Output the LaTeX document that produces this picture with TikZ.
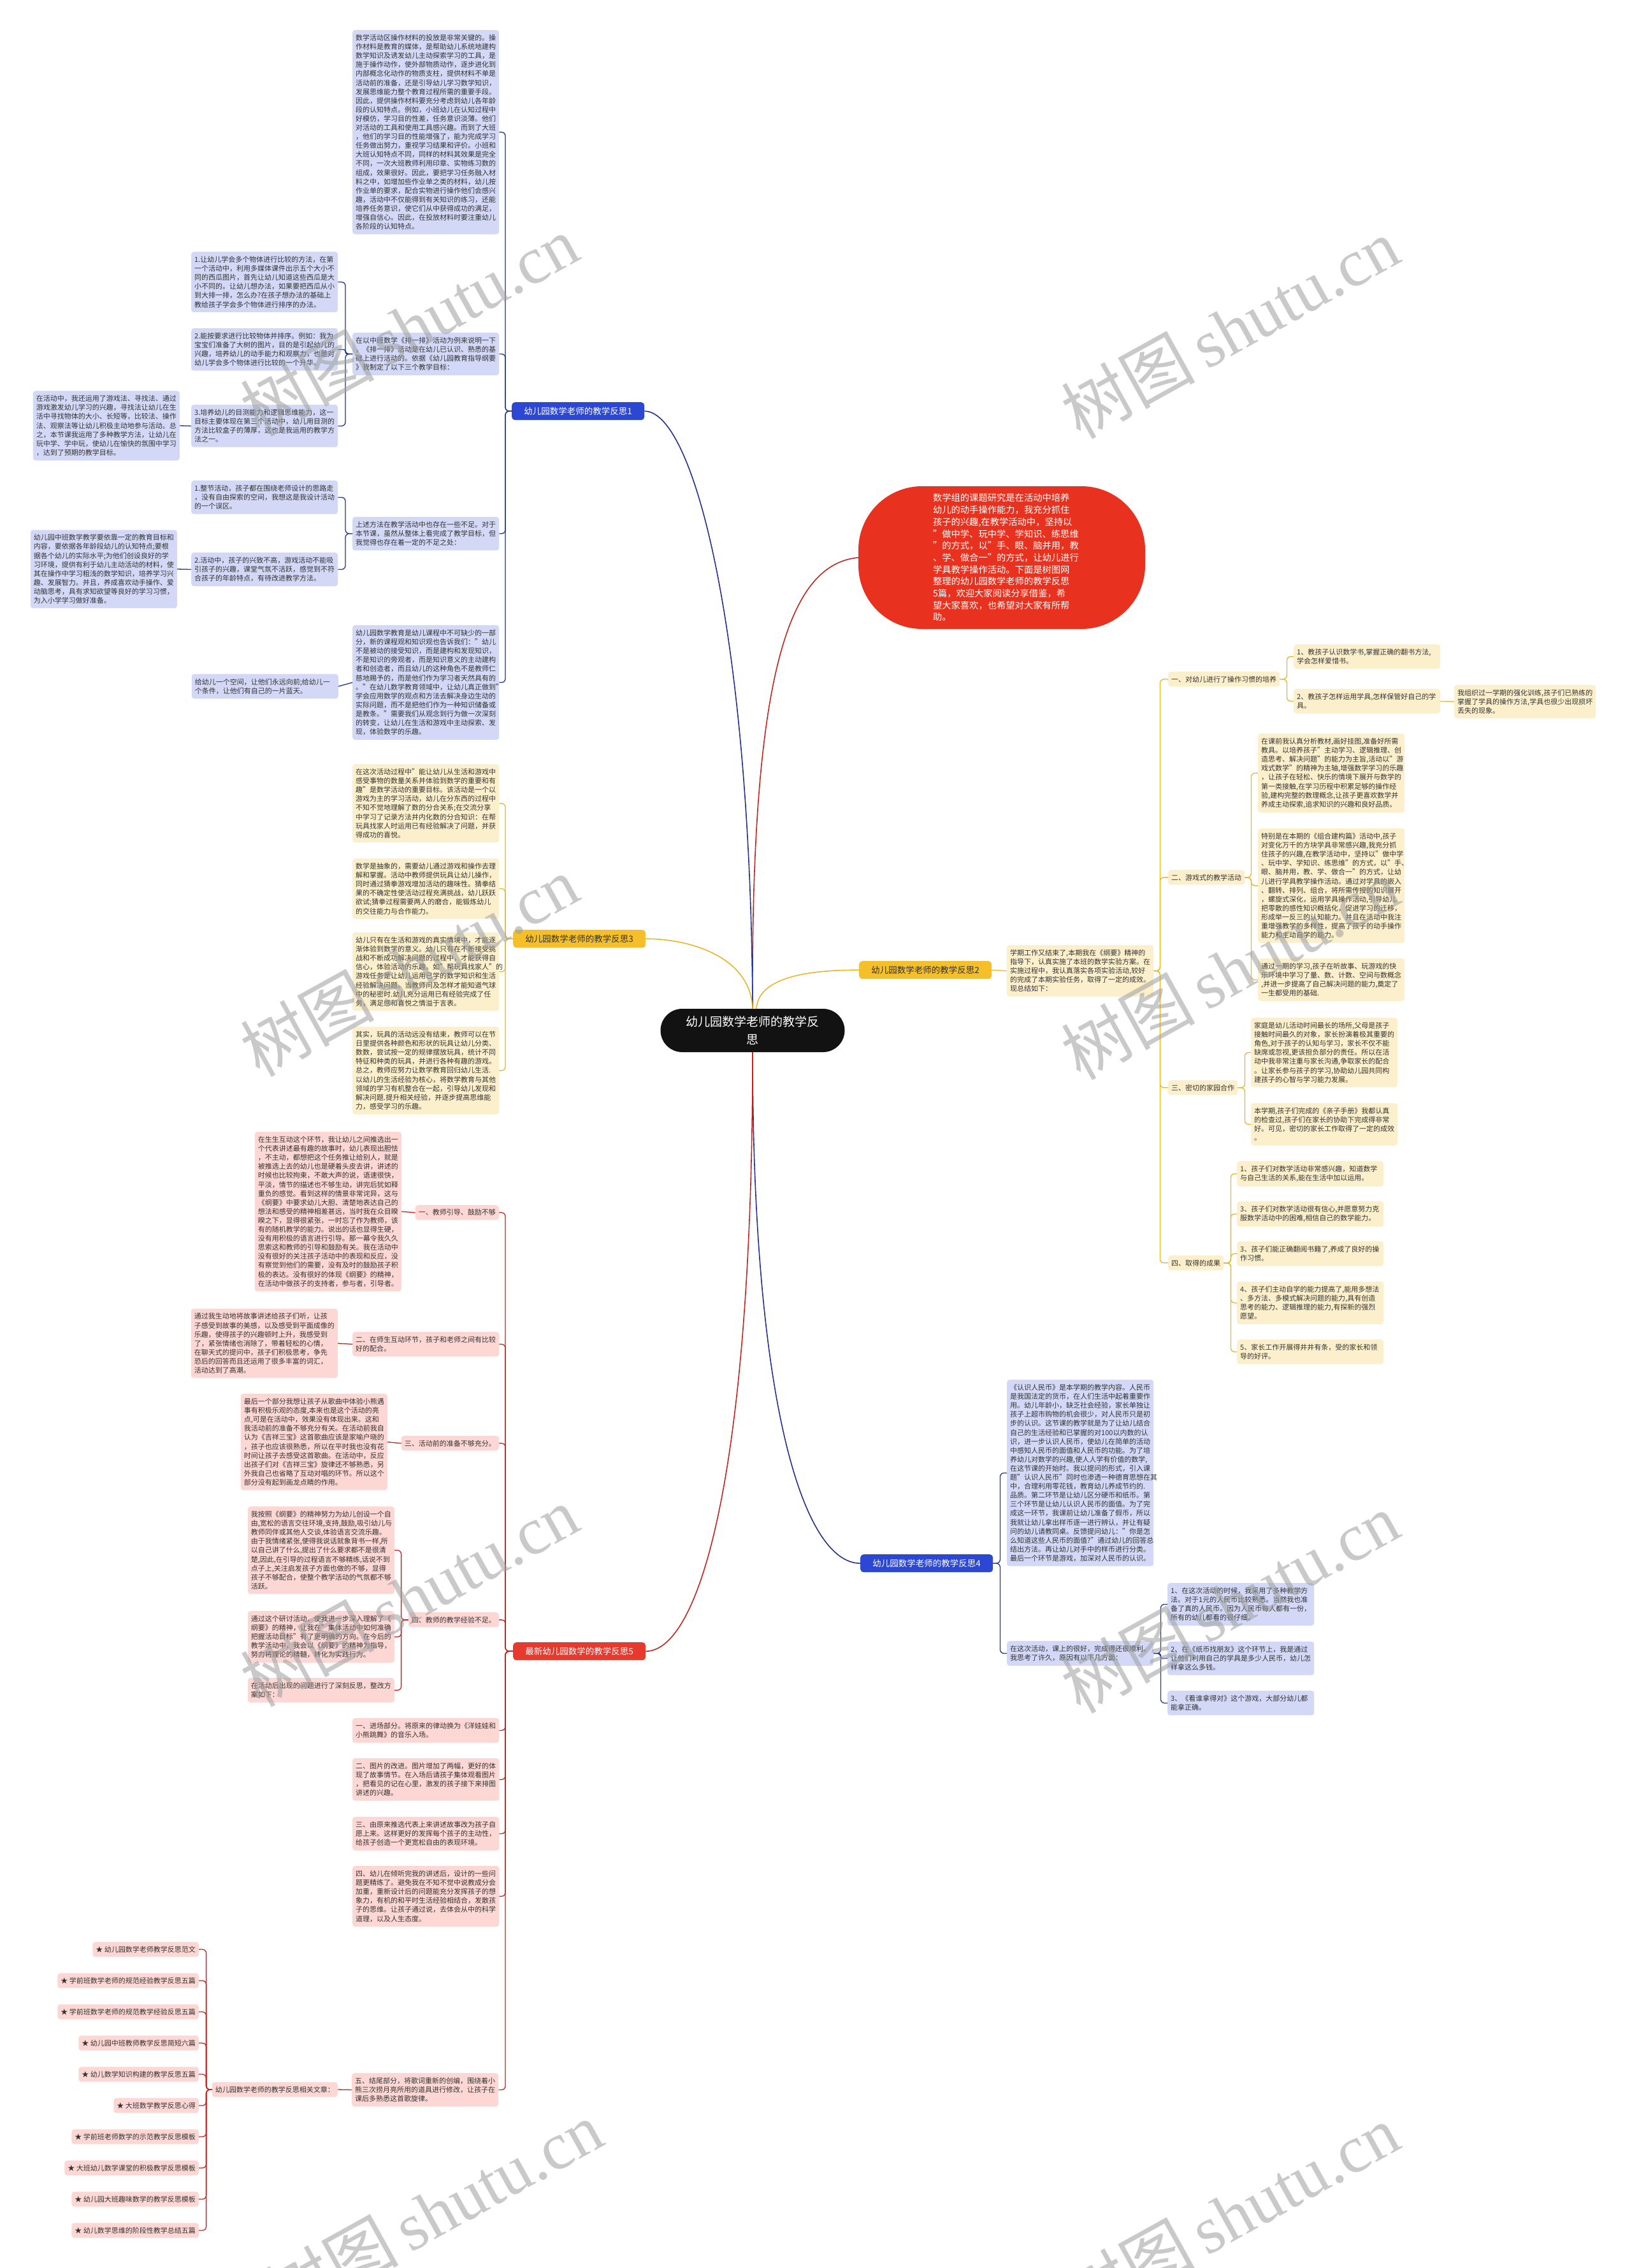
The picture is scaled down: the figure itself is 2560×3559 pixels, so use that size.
\documentclass[tikz,border=0pt]{standalone}
\usepackage{fontspec}
\setmainfont{Noto Sans CJK SC}
\newfontfamily\wmserif{Liberation Serif}
\definecolor{bfill}{HTML}{D3D8F6}
\definecolor{yfill}{HTML}{FCEFCB}
\definecolor{rfill}{HTML}{FCD7D4}
\definecolor{bline}{HTML}{22308F}
\definecolor{yline}{HTML}{E8B628}
\definecolor{rline}{HTML}{C42420}
\definecolor{blabc}{HTML}{2D47D5}
\definecolor{ylabc}{HTML}{F5BF2A}
\definecolor{rlabc}{HTML}{E63A2E}
\definecolor{introc}{HTML}{E8321F}
\definecolor{txt}{HTML}{333333}
\definecolor{wm}{HTML}{9E9E9E}
\newcommand\myfs{\fontsize{11}{14.1}\selectfont}
\begin{document}
\begin{tikzpicture}[x=1pt,y=-1pt,
  tbox/.style={anchor=north west, fill=#1, rounded corners=4pt, text=txt, font=\myfs, align=left, text width=220pt, inner xsep=5pt, inner ysep=7pt},
  tlab/.style={anchor=north west, fill=#1, rounded corners=4pt, text=txt, font=\myfs, inner xsep=5pt, inner ysep=6.5pt},
  tlabne/.style={tlab=#1, anchor=north east},
  tlabe/.style={tlab=#1, anchor=east},
  blab/.style={anchor=north west, fill=#1, rounded corners=5pt, font=\fontsize{13.5}{16}\selectfont, minimum width=208pt, minimum height=28pt, inner sep=0pt},
  cb/.style={draw=bline, line width=1.3pt, rounded corners=6pt},
  cy/.style={draw=yline, line width=1.3pt, rounded corners=6pt},
  cr/.style={draw=rline, line width=1.3pt, rounded corners=6pt},
  lk/.style={to path={-- ++(-#1,0) |- (\tikztotarget)}},
  rk/.style={to path={-- ++(#1,0) |- (\tikztotarget)}},
  wmk/.style={text=wm, text opacity=0.55, rotate=29, inner sep=0pt}
]
\useasboundingbox (0,0) rectangle (2560,3559);
\fill[white] (0,0) rectangle (2560,3559);

% ---------------- root and intro
\node[fill=black!93, text=white, rounded corners=34pt, minimum width=289pt, minimum height=68pt, align=center, font=\fontsize{19}{28}\selectfont, inner sep=0pt] (root) at (1181,1617) {幼儿园数学老师的教学反\\思};

\node[fill=introc, text=white, rounded corners=100pt, minimum width=450pt, minimum height=224pt, inner sep=0pt, font=\fontsize{14.3}{18.7}\selectfont, align=left, text width=216pt] (intro) at (1572,875) {数学组的课题研究是在活动中培养\\幼儿的动手操作能力，我充分抓住\\孩子的兴趣,在教学活动中，坚持以\\"做中学、玩中学、学知识、练思维\\"的方式，以"手、眼、脑并用，教\\、学、做合一"的方式，让幼儿进行\\学具教学操作活动。下面是树图网\\整理的幼儿园数学老师的教学反思\\5篇，欢迎大家阅读分享借鉴，希\\望大家喜欢，也希望对大家有所帮\\助。};

% ---------------- branch labels
\node[blab=blabc, text=white] (b1) at (803,631) {幼儿园数学老师的教学反思1};
\node[blab=ylabc, text=txt] (b3) at (805,1459) {幼儿园数学老师的教学反思3};
\node[blab=ylabc, text=txt] (b2) at (1348,1508) {幼儿园数学老师的教学反思2};
\node[blab=blabc, text=white] (b4) at (1350,2439) {幼儿园数学老师的教学反思4};
\node[blab=rlabc, text=white] (b5) at (805,2577) {最新幼儿园数学的教学反思5};

\draw[line width=1.6pt, draw=rline] (root.north) .. controls (1178,1050) and (1240,885) .. (intro.west);
\draw[line width=1.6pt, draw=bline] (root.north) .. controls (1178,1000) and (1090,645) .. (b1.east);
\draw[line width=1.6pt, draw=yline] (root.north) .. controls (1178,1500) and (1080,1473) .. (b3.east);
\draw[line width=1.6pt, draw=yline] ([xshift=6pt]root.north) .. controls (1190,1530) and (1280,1522) .. (b2.west);
\draw[line width=1.6pt, draw=bline] (root.south) .. controls (1181,2200) and (1260,2453) .. (b4.west);
\draw[line width=1.6pt, draw=rline] (root.south) .. controls (1181,2300) and (1100,2591) .. (b5.east);

% ---------------- branch 1
\node[tbox=bfill] (A) at (553,47) {数学活动区操作材料的投放是非常关键的。操\\作材料是教育的媒体，是帮助幼儿系统地建构\\数学知识及诱发幼儿主动探索学习的工具，是\\施于操作动作，使外部物质动作，逐步进化到\\内部概念化动作的物质支柱，提供材料不单是\\活动前的准备，还是引导幼儿学习数学知识，\\发展思维能力整个教育过程所需的重要手段。\\因此，提供操作材料要充分考虑到幼儿各年龄\\段的认知特点。例如，小班幼儿在认知过程中\\好模仿，学习目的性差，任务意识淡薄。他们\\对活动的工具和使用工具感兴趣。而到了大班\\，他们的学习目的性能增强了，能为完成学习\\任务做出努力，重视学习结果和评价。小班和\\大班认知特点不同，同样的材料其效果是完全\\不同，一次大班教师利用印章、实物练习数的\\组成，效果很好。因此，要把学习任务融入材\\料之中，如增加些作业单之类的材料，幼儿按\\作业单的要求，配合实物进行操作他们会感兴\\趣，活动中不仅能得到有关知识的练习，还能\\培养任务意识，使它们从中获得成功的满足，\\增强自信心。因此，在投放材料时要注重幼儿\\各阶段的认知特点。};
\node[tbox=bfill] (B) at (553,522) {在以中班数学《排一排》活动为例来说明一下\\，《排一排》活动是在幼儿已认识、熟悉的基\\础上进行活动的。依据《幼儿园教育指导纲要\\》我制定了以下三个教学目标：};
\node[tbox=bfill] (B1) at (300,395) {1.让幼儿学会多个物体进行比较的方法，在第\\一个活动中，利用多媒体课件出示五个大小不\\同的西瓜图片，首先让幼儿知道这些西瓜是大\\小不同的。让幼儿想办法，如果要把西瓜从小\\到大排一排，怎么办?在孩子想办法的基础上\\教给孩子学会多个物体进行排序的办法。};
\node[tbox=bfill] (B2) at (300,515) {2.能按要求进行比较物体并排序。例如：我为\\宝宝们准备了大树的图片，目的是引起幼儿的\\兴趣，培养幼儿的动手能力和观察力，也是对\\幼儿学会多个物体进行比较的一个升华。};
\node[tbox=bfill] (B3) at (300,635) {3.培养幼儿的目测能力和逻辑思维能力，这一\\目标主要体现在第三个活动中，幼儿用目测的\\方法比较盒子的薄厚，这也是我运用的教学方\\法之一。};
\node[tbox=bfill, anchor=east] (B3L) at (282,668) {在活动中，我还运用了游戏法、寻找法、通过\\游戏激发幼儿学习的兴趣，寻找法让幼儿在生\\活中寻找物体的大小、长短等，比较法、操作\\法、观察法等让幼儿积极主动地参与活动。总\\之，本节课我运用了多种教学方法，让幼儿在\\玩中学、学中玩，使幼儿在愉快的氛围中学习\\，达到了预期的教学目标。};
\node[tbox=bfill] (C) at (553,811) {上述方法在教学活动中也存在一些不足。对于\\本节课，虽然从整体上看完成了教学目标，但\\我觉得也存在着一定的不足之处：};
\node[tbox=bfill] (C1) at (300,754) {1.整节活动，孩子都在围绕老师设计的思路走\\，没有自由探索的空间，我想这是我设计活动\\的一个误区。};
\node[tbox=bfill] (C2) at (300,867) {2.活动中，孩子的兴致不高，游戏活动不能吸\\引孩子的兴趣，课堂气氛不活跃，感觉到不符\\合孩子的年龄特点，有待改进教学方法。};
\node[tbox=bfill, anchor=east] (C2L) at (278,893) {幼儿园中班数学教学要依靠一定的教育目标和\\内容，要依据各年龄段幼儿的认知特点;要根\\据各个幼儿的实际水平;为他们创设良好的学\\习环境，提供有利于幼儿主动活动的材料，使\\其在操作中学习粗浅的数学知识，培养学习兴\\趣、发展智力。并且，养成喜欢动手操作、爱\\动脑思考，具有求知欲望等良好的学习习惯，\\为入小学学习做好准备。};
\node[tbox=bfill] (D) at (553,981) {幼儿园数学教育是幼儿课程中不可缺少的一部\\分，新的课程观和知识观也告诉我们："幼儿\\不是被动的接受知识，而是建构和发现知识，\\不是知识的旁观者，而是知识意义的主动建构\\者和创造者，而且幼儿的这种角色不是教师仁\\慈地赐予的，而是他们作为学习者天然具有的\\。"在幼儿数学教育领域中，让幼儿真正做到"\\学会应用数学的观点和方法去解决身边生动的\\实际问题，而不是把他们作为一种知识储备或\\是教条。"需要我们从观念到行为做一次深刻\\的转变，让幼儿在生活和游戏中主动探索、发\\现，体验数学的乐趣。};
\node[tbox=bfill, anchor=east] (DL) at (531,1077) {给幼儿一个空间，让他们永远向前;给幼儿一\\个条件，让他们有自己的一片蓝天。};

\draw[cb] (b1.west) to[lk=10] (A.east);
\draw[cb] (b1.west) to[lk=10] (B.east);
\draw[cb] (b1.west) to[lk=10] (C.east);
\draw[cb] (b1.west) to[lk=10] (D.east);
\draw[cb] (B.west) to[lk=11] (B1.east);
\draw[cb, rounded corners=3pt] (B.west) to[lk=11] (B2.east);
\draw[cb] (B.west) to[lk=11] (B3.east);
\draw[cb] (B3.west) -- (B3L.east);
\draw[cb] (C.west) to[lk=11] (C1.east);
\draw[cb] (C.west) to[lk=11] (C2.east);
\draw[cb] (C2.west) -- (C2L.east);
\draw[cb] (D.west) -- (DL.east);

% ---------------- branch 3
\node[tbox=yfill] (Y1) at (553,1199) {在这次活动过程中"能让幼儿从生活和游戏中\\感受事物的数量关系并体验到数学的重要和有\\趣"是数学活动的重要目标。该活动是一个以\\游戏为主的学习活动，幼儿在分东西的过程中\\不知不觉地理解了数的分合关系;在交流分享\\中学习了记录方法并内化数的分合知识：在帮\\玩具找家人时运用已有经验解决了问题，并获\\得成功的喜悦。};
\node[tbox=yfill] (Y2) at (553,1347) {数学是抽象的，需要幼儿通过游戏和操作去理\\解和掌握。活动中教师提供玩具让幼儿操作，\\同时通过猜拳游戏增加活动的趣味性。猜拳结\\果的不确定性使活动过程充满挑战，幼儿跃跃\\欲试;猜拳过程需要两人的磨合，能锻炼幼儿\\的交往能力与合作能力。};
\node[tbox=yfill] (Y3) at (553,1463) {幼儿只有在生活和游戏的真实情境中，才能逐\\渐体验到数学的意义。幼儿只有在不断接受挑\\战和不断成功解决问题的过程中，才能获得自\\信心，体验活动的乐趣。如"帮玩具找家人"的\\游戏任务是让幼儿运用已学的数学知识和生活\\经验解决问题。当教师问及怎样才能知道气球\\中的秘密时.幼儿充分运用已有经验完成了任\\务，满足感和喜悦之情溢于言表。};
\node[tbox=yfill] (Y4) at (553,1611) {其实，玩具的活动远没有结束，教师可以在节\\日里提供各种颜色和形状的玩具让幼儿分类、\\数数，尝试按一定的规律摆放玩具，统计不同\\特征和种类的玩具，并进行各种有趣的游戏。\\总之，教师应努力让数学教育回归幼儿生活.\\以幼儿的生活经验为核心，将数学教育与其他\\领域的学习有机整合在一起，引导幼儿发现和\\解决问题.提升相关经验，并逐步提高思维能\\力，感受学习的乐趣。};
\draw[cy] (b3.west) to[lk=12] (Y1.east);
\draw[cy] (b3.west) to[lk=12] (Y2.east);
\draw[cy] (b3.west) to[lk=12] (Y3.east);
\draw[cy] (b3.west) to[lk=12] (Y4.east);

% ---------------- branch 2
\node[tbox=yfill] (QP) at (1580,1483) {学期工作又结束了,本期我在《纲要》精神的\\指导下，认真实施了本班的数学实验方案。在\\实施过程中，我认真落实各项实验活动,较好\\的完成了本期实验任务，取得了一定的成效。\\现总结如下：};
\draw[cy] (b2.east) -- (QP.west);
\node[tlab=yfill] (Q1) at (1833,1054) {一、对幼儿进行了操作习惯的培养};
\node[tbox=yfill] (Q1a) at (2030,1011) {1、教孩子认识数学书,掌握正确的翻书方法,\\学会怎样爱惜书。};
\node[tbox=yfill] (Q1b) at (2030,1081) {2、教孩子怎样运用学具,怎样保管好自己的学\\具。};
\node[tbox=yfill, text width=212pt, anchor=west] (Q1R) at (2282,1101) {我组织过一学期的强化训练,孩子们已熟练的\\掌握了学具的操作方法,学具也很少出现损坏\\丢失的现象。};
\node[tlab=yfill] (Q2) at (1833,1365) {二、游戏式的教学活动};
\node[tbox=yfill] (Q2a) at (1974,1151) {在课前我认真分析教材,画好挂图,准备好所需\\教具。以培养孩子"主动学习、逻辑推理、创\\造思考、解决问题"的能力为主旨,活动以"游\\戏式数学"的精神为主轴,增强数学学习的乐趣\\，让孩子在轻松、快乐的情境下展开与数学的\\第一类接触,在学习历程中积累足够的操作经\\验,建构完整的数理概念,让孩子更喜欢数学并\\养成主动探索,追求知识的兴趣和良好品质。};
\node[tbox=yfill] (Q2b) at (1974,1300) {特别是在本期的《组合建构篇》活动中,孩子\\对变化万千的方块学具非常感兴趣,我充分抓\\住孩子的兴趣,在教学活动中，坚持以"做中学\\、玩中学、学知识、练思维"的方式，以"手、\\眼、脑并用，教、学、做合一"的方式，让幼\\儿进行学具教学操作活动。通过对学具的嵌入\\、翻转、排列、组合，将所需传授的知识展开\\，螺旋式深化，运用学具操作活动,引导幼儿\\把零散的感性知识概括化，促进学习的迁移，\\形成举一反三的认知能力。并且在活动中我注\\重增强教学的多样性，提高了孩子的动手操作\\能力和主动自学的能力。};
\node[tbox=yfill] (Q2c) at (1974,1504) {通过一期的学习,孩子在听故事、玩游戏的快\\乐环境中学习了量、数、计数、空间与数概念\\,并进一步提高了自己解决问题的能力,奠定了\\一生都受用的基础.};
\node[tlab=yfill] (Q3) at (1833,1695) {三、密切的家园合作};
\node[tbox=yfill] (Q3a) at (1963,1597) {家庭是幼儿活动时间最长的场所,父母是孩子\\接触时间最久的对象，家长扮演着极其重要的\\角色,对于孩子的认知与学习，家长不仅不能\\缺席或忽视,更该担负部分的责任。所以在活\\动中我非常注重与家长沟通,争取家长的配合\\。让家长参与孩子的学习,协助幼儿园共同构\\建孩子的心智与学习能力发展。};
\node[tbox=yfill] (Q3b) at (1963,1731) {本学期,孩子们完成的《亲子手册》我都认真\\的检查过,孩子们在家长的协助下完成得非常\\好。可见，密切的家长工作取得了一定的成效\\。};
\node[tlab=yfill] (Q4) at (1833,1970) {四、取得的成果};
\node[tbox=yfill] (Q4a) at (1941,1822) {1、孩子们对数学活动非常感兴趣，知道数学\\与自己生活的关系,能在生活中加以运用。};
\node[tbox=yfill] (Q4b) at (1941,1885) {3、孩子们对数学活动很有信心,并愿意努力克\\服数学活动中的困难,相信自己的数学能力。};
\node[tbox=yfill] (Q4c) at (1941,1948) {3、孩子们能正确翻阅书籍了,养成了良好的操\\作习惯。};
\node[tbox=yfill] (Q4d) at (1941,2011) {4、孩子们主动自学的能力提高了,能用多想法\\、多方法、多模式解决问题的能力,具有创造\\思考的能力、逻辑推理的能力,有探新的强烈\\愿望。};
\node[tbox=yfill] (Q4e) at (1941,2102) {5、家长工作开展得井井有条，受的家长和领\\导的好评。};
\draw[cy] (QP.east) to[rk=10] (Q1.west);
\draw[cy] (QP.east) to[rk=10] (Q2.west);
\draw[cy] (QP.east) to[rk=10] (Q3.west);
\draw[cy] (QP.east) to[rk=10] (Q4.west);
\draw[cy] (Q1.east) to[rk=11] (Q1a.west);
\draw[cy] (Q1.east) to[rk=11] (Q1b.west);
\draw[cy] (Q1b.east) -- (Q1R.west);
\draw[cy] (Q2.east) to[rk=10] (Q2a.west);
\draw[cy] (Q2.east) to[rk=10] (Q2b.west);
\draw[cy] (Q2.east) to[rk=10] (Q2c.west);
\draw[cy] (Q3.east) to[rk=11] (Q3a.west);
\draw[cy] (Q3.east) to[rk=11] (Q3b.west);
\draw[cy] (Q4.east) to[rk=11] (Q4a.west);
\draw[cy] (Q4.east) to[rk=11] (Q4b.west);
\draw[cy] (Q4.east) to[rk=11] (Q4c.west);
\draw[cy] (Q4.east) to[rk=11] (Q4d.west);
\draw[cy] (Q4.east) to[rk=11] (Q4e.west);

% ---------------- branch 4
\node[tbox=bfill] (P1) at (1580,2165) {《认识人民币》是本学期的教学内容。人民币\\是我国法定的货币，在人们生活中起着重要作\\用。幼儿年龄小，缺乏社会经验，家长单独让\\孩子上超市购物的机会很少，对人民币只是初\\步的认识。这节课的教学就是为了让幼儿结合\\自己的生活经验和已掌握的对100以内数的认\\识，进一步认识人民币，使幼儿在简单的活动\\中感知人民币的面值和人民币的功能。为了培\\养幼儿对数学的兴趣,使人人学有价值的数学,\\在这节课的开始时。我以提问的形式，引入课\\题"认识人民币"同时也渗透一种德育思想在其\\中，合理利用零花钱，教育幼儿养成节约的.\\品质。第二环节是让幼儿区分硬币和纸币。第\\三个环节是让幼儿认识人民币的面值。为了完\\成这一环节，我课前让幼儿准备了假币，所以\\我就让幼儿拿出样币逐一进行辨认，并让有疑\\问的幼儿请教同桌。反馈提问幼儿："你是怎\\么知道这些人民币的面值?"通过幼儿的回答总\\结出方法。再让幼儿对手中的样币进行分类。\\最后一个环节是游戏，加深对人民币的认识。};
\node[tbox=bfill] (P2) at (1580,2575) {在这次活动，课上的很好，完成得还很顺利。\\我思考了许久，原因有以下几方面：};
\node[tbox=bfill] (P2a) at (1832,2484) {1、在这次活动的时候，我采用了多种教学方\\法。对于1元的人民币比较熟悉。当然我也准\\备了真的人民币。因为人民币每人都有一份，\\所有的幼儿都看的很仔细。};
\node[tbox=bfill] (P2b) at (1832,2576) {2、在《纸币找朋友》这个环节上，我是通过\\让他们利用自己的学具是多少人民币，幼儿怎\\样拿这么多钱。};
\node[tbox=bfill] (P2c) at (1832,2653) {3、《看谁拿得对》这个游戏，大部分幼儿都\\能拿正确。};
\draw[cb] (b4.east) to[rk=11] (P1.west);
\draw[cb] (b4.east) to[rk=11] (P2.west);
\draw[cb] (P2.east) to[rk=11] (P2a.west);
\draw[cb, rounded corners=3pt] (P2.east) to[rk=11] (P2b.west);
\draw[cb] (P2.east) to[rk=11] (P2c.west);

% ---------------- branch 5
\node[tlabne=rfill] (R1) at (783,1891) {一、教师引导、鼓励不够};
\node[tbox=rfill, anchor=north east] (R1a) at (630,1776) {在生生互动这个环节，我让幼儿之间推选出一\\个代表讲述最有趣的故事时，幼儿表现出胆怯\\，不主动，都想把这个任务推让给别人，就是\\被推选上去的幼儿也是硬着头皮去讲，讲述的\\时候也比较拘束，不敢大声的说，语速很快，\\平淡，情节的描述也不够生动，讲完后犹如释\\重负的感觉。看到这样的情景非常诧异，这与\\《纲要》中要求幼儿大胆、清楚地表达自己的\\想法和感受的精神相差甚远，当时我在众目睽\\睽之下，显得很紧张，一时忘了作为教师，该\\有的随机教学的能力。说出的话也显得生硬，\\没有用积极的语言进行引导。那一幕令我久久\\思索这和教师的引导和鼓励有关。我在活动中\\没有很好的关注孩子活动中的表现和反应，没\\有察觉到他们的需要，没有及时的鼓励孩子积\\极的表达。没有很好的体现《纲要》的精神，\\在活动中做孩子的支持者，参与者，引导者。};
\node[tbox=rfill] (R2) at (553,2090) {二、在师生互动环节，孩子和老师之间有比较\\好的配合。};
\node[tbox=rfill, anchor=east] (R2a) at (530,2108) {通过我生动地将故事讲述给孩子们听，让孩\\子感受到故事的美感，以及感受到平面成像的\\乐趣，使得孩子的兴趣顿时上升，我感受到\\了，紧张情绪也消除了，带着轻松的心情，\\在聊天式的提问中，孩子们积极思考，争先\\恐后的回答而且还运用了很多丰富的词汇，\\活动达到了高潮。};
\node[tlabne=rfill] (R3) at (783,2253) {三、活动前的准备不够充分。};
\node[tbox=rfill, anchor=north east] (R3a) at (608,2187) {最后一个部分我想让孩子从歌曲中体验小熊遇\\事有积极乐观的态度,本来也是这个活动的亮\\点,可是在活动中，效果没有体现出来。这和\\我活动前的准备不够充分有关。在活动前我自\\认为《吉祥三宝》这首歌曲应该是家喻户晓的\\，孩子也应该很熟悉，所以在平时我也没有花\\时间让孩子去感受这首歌曲。在活动中，反应\\出孩子们对《吉祥三宝》旋律还不够熟悉，另\\外我自己也省略了互动对唱的环节。所以这个\\部分没有起到画龙点睛的作用。};
\node[tlabne=rfill] (R4) at (783,2530) {四、教师的教学经验不足。};
\node[tbox=rfill, anchor=north east] (R4a) at (619,2364) {我按照《纲要》的精神努力为幼儿创设一个自\\由,宽松的语言交往环境,支持,鼓励,吸引幼儿与\\教师同伴或其他人交谈,体验语言交流乐趣。\\由于我情绪紧张,使得我说话就象背书一样,所\\以自己讲了什么,提出了什么要求都不是很清\\楚,因此,在引导的过程语言不够精练,话说不到\\点子上,关注启发孩子方面也做的不够，显得\\孩子不够配合，使整个教学活动的气氛都不够\\活跃。};
\node[tbox=rfill, anchor=north east] (R4b) at (619,2528) {通过这个研讨活动，使我进一步深入理解了《\\纲要》的精神，让我在"集体活动中如何准确\\把握活动目标"有了更明确的方向。在今后的\\教学活动中，我会以《纲要》的精神为指导，\\努力将理论的精髓，转化为实践行为。};
\node[tbox=rfill, anchor=north east] (R4c) at (619,2633) {在活动后出现的问题进行了深刻反思，整改方\\案如下：};
\node[tbox=rfill] (R5) at (553,2696) {一、进场部分。将原来的律动换为《洋娃娃和\\小熊跳舞》的音乐入场。};
\node[tbox=rfill] (R6) at (553,2759) {二、图片的改进。图片增加了两幅，更好的体\\现了故事情节。在入场后请孩子集体观看图片\\，把看见的记在心里，激发的孩子接下来排图\\讲述的兴趣。};
\node[tbox=rfill] (R7) at (553,2851) {三、由原来推选代表上来讲述故事改为孩子自\\愿上来。这样更好的发挥每个孩子的主动性，\\给孩子创造一个更宽松自由的表现环境。};
\node[tbox=rfill] (R8) at (553,2928) {四、幼儿在倾听完我的讲述后，设计的一些问\\题更精练了。避免我在不知不觉中说教成分会\\加重，重新设计后的问题能充分发挥孩子的想\\象力，有机的和平时生活经验相结合，发散孩\\子的思维。让孩子通过说，去体会从中的科学\\道理，以及人生态度。};
\node[tbox=rfill] (R9) at (552,3253) {五、结尾部分，将歌词重新的创编，围绕着小\\熊三次捞月亮所用的道具进行修改，让孩子在\\课后多熟悉这首歌旋律。};
\node[tlabe=rfill] (Rel) at (530,3279) {幼儿园数学老师的教学反思相关文章：};
\foreach \i/\t in {1/幼儿园数学老师教学反思范文, 2/学前班数学老师的规范经验教学反思五篇, 3/学前班数学老师的规范教学经验反思五篇, 4/幼儿园中班教师教学反思简短六篇, 5/幼儿数学知识构建的教学反思五篇, 6/大班数学教学反思心得, 7/学前班老师数学的示范教学反思模板, 8/大班幼儿数学课堂的积极教学反思模板, 9/幼儿园大班趣味数学的教学反思模板, 10/幼儿数学思维的阶段性教学总结五篇}{
  \node[tlabe=rfill] (L\i) at (312,{3059+49*(\i-1)}) {★ \t};
  \draw[cr] (Rel.west) to[lk=9] (L\i.east);
}
\draw[cr] (b5.west) to[lk=12] (R1.east);
\draw[cr] (b5.west) to[lk=12] (R2.east);
\draw[cr] (b5.west) to[lk=12] (R3.east);
\draw[cr] (b5.west) to[lk=12] (R4.east);
\draw[cr] (b5.west) to[lk=12] (R5.east);
\draw[cr] (b5.west) to[lk=12] (R6.east);
\draw[cr] (b5.west) to[lk=12] (R7.east);
\draw[cr] (b5.west) to[lk=12] (R8.east);
\draw[cr] (b5.west) to[lk=12] (R9.east);
\draw[cr] (R1.west) -- (R1a.east);
\draw[cr] (R2.west) -- (R2a.east);
\draw[cr] (R3.west) -- (R3a.east);
\draw[cr] (R4.west) to[lk=11] (R4a.east);
\draw[cr] (R4.west) to[lk=11] (R4b.east);
\draw[cr] (R4.west) to[lk=11] (R4c.east);
\draw[cr] (R9.west) -- (Rel.east);

% ---------------- watermarks
\foreach \wx/\wy/\wn in {642/511/a, 1930/515/b, 642/1516/c, 1930/1521/d, 642/2505/e, 1930/2515/f, 680/3470/g, 1930/3475/h}{
  \node[wmk] (wm\wn) at (\wx,\wy) {\fontsize{105}{110}\selectfont 树图\,{\wmserif shutu.cn}};
}
\end{tikzpicture}
\end{document}
